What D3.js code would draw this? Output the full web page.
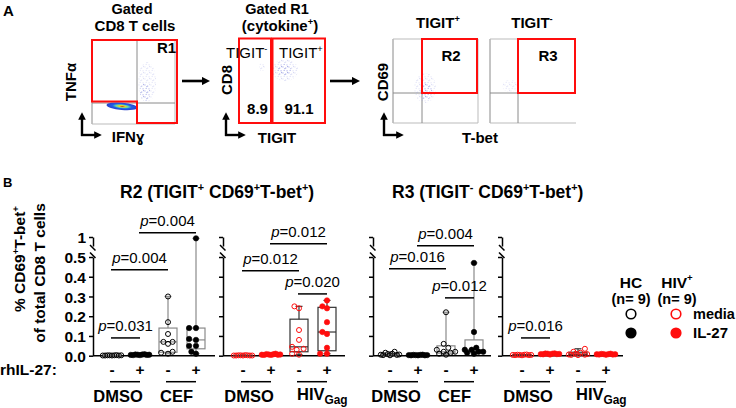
<!DOCTYPE html>
<html><head><meta charset="utf-8">
<script src="https://cdn.jsdelivr.net/npm/d3@7"></script>
<style>body{margin:0;background:#fff} svg{display:block} text{font-family:"Liberation Sans",Arial,sans-serif}</style>
</head><body><svg id="c" width="736" height="408"></svg>
<script>
// ---------------- DATA ----------------
const groupKeys = ["dmso_media", "dmso_il27", "stim_media", "stim_il27"];
const il27Signs = ["-", "+", "-", "+"];
const yTicks = [0, 0.1, 0.2, 0.3, 0.4, 0.5];
const yTickLabels = ["0.0", "0.1", "0.2", "0.3", "0.4", "0.5"];
const yTopTick = [1];
const yTopTickLabels = ["1"];

// R2 (TIGIT+ CD69+ T-bet+), HC donors
const r2HC = [
  [0.001, 0.002, 0.001, 0.003, 0.002, 0.001, 0.002, 0.001, 0.002],
  [0.004, 0.006, 0.003, 0.005, 0.007, 0.004, 0.005, 0.003, 0.006],
  [0.30, 0.17, 0.11, 0.07, 0.07, 0.06, 0.02, 0.015, 0.01],
  [0.97, 0.14, 0.14, 0.085, 0.08, 0.05, 0.05, 0.02, 0.01]
];
// R2, HIV+ donors
const r2HIV = [
  [0.001, 0.002, 0.001, 0.002, 0.001, 0.003, 0.001, 0.002, 0.001],
  [0.005, 0.008, 0.004, 0.006, 0.010, 0.005, 0.007, 0.004, 0.006],
  [0.25, 0.24, 0.13, 0.08, 0.045, 0.035, 0.03, 0.01, 0.005],
  [0.28, 0.25, 0.24, 0.17, 0.12, 0.11, 0.04, 0.01, 0.01]
];
// R3 (TIGIT- CD69+ T-bet+), HC donors
const r3HC = [
  [0.02, 0.015, 0.01, 0.008, 0.006, 0.005, 0.004, 0.003, 0.002],
  [0.004, 0.003, 0.005, 0.002, 0.003, 0.004, 0.002, 0.003, 0.002],
  [0.22, 0.06, 0.04, 0.03, 0.02, 0.02, 0.015, 0.01, 0.005],
  [0.47, 0.12, 0.04, 0.03, 0.03, 0.02, 0.02, 0.015, 0.01]
];
// R3, HIV+ donors
const r3HIV = [
  [0.006, 0.004, 0.005, 0.003, 0.004, 0.002, 0.005, 0.003, 0.004],
  [0.012, 0.010, 0.008, 0.011, 0.009, 0.007, 0.010, 0.008, 0.006],
  [0.035, 0.02, 0.015, 0.01, 0.008, 0.006, 0.005, 0.004, 0.003],
  [0.010, 0.008, 0.009, 0.007, 0.006, 0.008, 0.005, 0.007, 0.006]
];

// p-value brackets: panel, from group, to group, text, bracket height (data units)
const pPanel = [0, 0, 0, 1, 1, 1, 2, 2, 2, 3];
const pFrom  = [0, 0, 1, 1, 0, 2, 1, 0, 2, 0];
const pTo    = [1, 2, 3, 3, 2, 3, 3, 2, 3, 1];
const pText  = ["0.031", "0.004", "0.004", "0.012", "0.012", "0.020", "0.004", "0.016", "0.012", "0.016"];
const pLevel = [0.09, 0.435, 0.623, 0.567, 0.430, 0.313, 0.557, 0.440, 0.293, 0.09];

const fcsSample1 = ["8.9", "91.1"];

// ---------------- DRAW ----------------
const svg = d3.select("#c");
const FONT = '"Liberation Sans",Arial,sans-serif';
const RED = "#ff0d0d";
const defs = svg.append("defs");

function rich(g, x, y, parts, size, weight, anchor) {
  const t = g.append("text").attr("x", x).attr("y", y)
    .attr("font-size", size).attr("font-weight", weight || "bold")
    .attr("text-anchor", anchor || "start").attr("fill", "#000");
  let shift = 0;
  parts.forEach(p => {
    const s = p.sup ? -size * 0.42 : p.sub ? size * 0.25 : 0;
    const ts = t.append("tspan").attr("dy", s - shift).text(p.t);
    if (p.sup || p.sub) ts.attr("font-size", size * (p.sub ? 0.72 : 0.62));
    if (p.it) ts.attr("font-style", "italic");
    shift = s;
  });
  return t;
}

// ---------- Panel A ----------
const pat = defs.append("pattern").attr("id", "dots").attr("width", 6).attr("height", 6).attr("patternUnits", "userSpaceOnUse");
[[0.5,0.5],[3.3,1.6],[1.7,3.9],[4.6,4.4],[2.4,2.2],[5.1,0.2]].forEach(([x,y]) =>
  pat.append("rect").attr("x", x).attr("y", y).attr("width", 0.9).attr("height", 0.9).attr("fill", "#8f94e0"));
const jet = defs.append("radialGradient").attr("id", "jet");
[[0,"#c8261c"],[0.2,"#f0d020"],[0.4,"#60d8a8"],[0.62,"#2060ea"],[1,"#2840c8"]].forEach(([o,c]) =>
  jet.append("stop").attr("offset", o).attr("stop-color", c));
defs.append("marker").attr("id", "ah").attr("viewBox", "0 0 10 10").attr("refX", 5).attr("refY", 5)
  .attr("markerWidth", 3.2).attr("markerHeight", 3.2).attr("orient", "auto")
  .append("path").attr("d", "M0,0 L10,5 L0,10 z").attr("fill", "#000");

const A = svg.append("g");
rich(A, 3, 16, [{t:"A"}], 15);
rich(A, 3, 187, [{t:"B"}], 13);

function cloud(cx, cy, rx, ry, op) {
  A.append("ellipse").attr("cx", cx).attr("cy", cy).attr("rx", rx).attr("ry", ry)
    .attr("fill", "url(#dots)").attr("opacity", op);
}
function gray(x1, y1, x2, y2, c) {
  A.append("line").attr("x1", x1).attr("y1", y1).attr("x2", x2).attr("y2", y2)
    .attr("stroke", c || "#8a8a8a").attr("stroke-width", 1);
}
function axArrows(x, y, len) {
  A.append("line").attr("x1", x).attr("y1", y + 1).attr("x2", x).attr("y2", y - len)
    .attr("stroke", "#000").attr("stroke-width", 2.4).attr("marker-end", "url(#ah)");
  A.append("line").attr("x1", x - 1).attr("y1", y).attr("x2", x + len - 3).attr("y2", y)
    .attr("stroke", "#000").attr("stroke-width", 2.4).attr("marker-end", "url(#ah)");
}
function arrow(x1, x2, y) {
  A.append("line").attr("x1", x1).attr("y1", y).attr("x2", x2).attr("y2", y)
    .attr("stroke", "#000").attr("stroke-width", 2.6).attr("marker-end", "url(#ah)");
}

// plot 1
rich(A, 132, 14, [{t:"Gated"}], 14.5, "bold", "middle");
rich(A, 135, 31, [{t:"CD8 T cells"}], 15, "bold", "middle");
gray(92, 40, 92, 124); gray(92, 124, 175, 124, "#bbb"); gray(175, 40, 175, 124, "#bbb");
gray(137, 40, 137, 124); gray(92, 103, 175, 103);
cloud(147, 82, 9, 20, 0.4); cloud(145, 92, 5, 9, 0.75);
A.append("ellipse").attr("cx", 122).attr("cy", 106.3).attr("rx", 15.5).attr("ry", 3.6)
  .attr("transform", "rotate(5,122,106.3)").attr("fill", "url(#jet)");
A.append("path").attr("d", "M92,40 H177 V123 H137 V101.5 H92 Z").attr("fill", "none")
  .attr("stroke", RED).attr("stroke-width", 2);
rich(A, 157, 53, [{t:"R1"}], 15, "bold", "start");
A.append("g").attr("transform", "translate(76,82) rotate(-90)").call(g =>
  rich(g, 0, 0, [{t:"TNFα"}], 15, "bold", "middle"));
rich(A, 128, 142, [{t:"IFNɣ"}], 15, "bold", "middle");
axArrows(82, 135, 19);
arrow(182, 206, 81);

// plot 2
rich(A, 277, 14, [{t:"Gated R1"}], 14.5, "bold", "middle");
rich(A, 280, 31, [{t:"(cytokine"},{t:"+",sup:true},{t:")"}], 15, "bold", "middle");
cloud(285, 70, 13, 11, 0.5); cloud(284, 70, 7, 6, 0.8); cloud(262, 67, 3, 4, 0.4);
A.append("rect").attr("x", 239).attr("y", 38.5).attr("width", 32).attr("height", 84.5)
  .attr("fill", "none").attr("stroke", RED).attr("stroke-width", 2);
A.append("rect").attr("x", 272.5).attr("y", 38.5).attr("width", 52.5).attr("height", 84.5)
  .attr("fill", "none").attr("stroke", RED).attr("stroke-width", 2);
rich(A, 226, 58, [{t:"TIGIT"},{t:"-",sup:true}], 15, "normal", "start");
rich(A, 279, 58, [{t:"TIGIT"},{t:"+",sup:true}], 15, "normal", "start");
rich(A, 257.5, 114, [{t:fcsSample1[0]}], 15, "bold", "middle");
rich(A, 299, 114, [{t:fcsSample1[1]}], 15, "bold", "middle");
A.append("g").attr("transform", "translate(232,80) rotate(-90)").call(g =>
  rich(g, 0, 0, [{t:"CD8"}], 15, "bold", "middle"));
rich(A, 277, 143, [{t:"TIGIT"}], 15, "bold", "middle");
axArrows(226, 135, 19);
arrow(330, 356, 81);

// plots 3 & 4
rich(A, 438, 28, [{t:"TIGIT"},{t:"+",sup:true}], 15, "bold", "middle");
rich(A, 532, 28, [{t:"TIGIT"},{t:"-",sup:true}], 15, "bold", "middle");
gray(393, 39, 393, 123); gray(393, 123, 478, 123, "#bbb"); gray(478, 39, 478, 123, "#bbb");
gray(393, 39, 478, 39, "#bbb");
gray(422, 39, 422, 123); gray(393, 93, 478, 93);
cloud(425, 88, 11, 15, 0.4); cloud(426, 91, 6, 9, 0.8);
A.append("rect").attr("x", 422).attr("y", 39).attr("width", 55).attr("height", 54)
  .attr("fill", "none").attr("stroke", RED).attr("stroke-width", 2);
rich(A, 451, 61, [{t:"R2"}], 15, "bold", "middle");
gray(490, 39, 490, 123); gray(490, 123, 576, 123, "#bbb"); gray(490, 39, 576, 39, "#bbb");
gray(518, 39, 518, 123); gray(490, 93, 576, 93);
cloud(510, 86, 8, 6, 0.35);
A.append("rect").attr("x", 518).attr("y", 39).attr("width", 57).attr("height", 54)
  .attr("fill", "none").attr("stroke", RED).attr("stroke-width", 2);
rich(A, 548, 61, [{t:"R3"}], 15, "bold", "middle");
A.append("g").attr("transform", "translate(388,82) rotate(-90)").call(g =>
  rich(g, 0, 0, [{t:"CD69"}], 15, "bold", "middle"));
rich(A, 480, 143, [{t:"T-bet"}], 15, "bold", "middle");
axArrows(384, 135, 19);

// ---------- Panel B ----------
const B = svg.append("g");
const yLow = d3.scaleLinear().domain([0, 0.5]).range([355.7, 257]);
const yHigh = d3.scaleLinear().domain([0.8, 1]).range([246, 237]);
const yv = v => v > 0.5 ? yHigh(v) : yLow(v);

const panels = [
  {data: r2HC,  hiv: false, ax: 93,  first: 112, end: 215, labels: true,  stim: "CEF"},
  {data: r2HIV, hiv: true,  ax: 223, first: 243, end: 345, labels: false, stim: "HIV"},
  {data: r3HC,  hiv: false, ax: 373, first: 390, end: 491, labels: false, stim: "CEF"},
  {data: r3HIV, hiv: true,  ax: 502, first: 522, end: 623, labels: false, stim: "HIV"}
];

rich(B, 120, 198, [{t:"R2 (TIGIT"},{t:"+",sup:true},{t:" CD69"},{t:"+",sup:true},{t:"T-bet"},{t:"+",sup:true},{t:")"}], 17.5, "bold");
rich(B, 392, 198, [{t:"R3 (TIGIT"},{t:"-",sup:true},{t:" CD69"},{t:"+",sup:true},{t:"T-bet"},{t:"+",sup:true},{t:")"}], 17.5, "bold");

B.append("g").attr("transform", "translate(25,259) rotate(-90)").call(g =>
  rich(g, 0, 0, [{t:"% CD69"},{t:"+",sup:true},{t:"T-bet"},{t:"+",sup:true}], 15.5, "bold", "middle"));
B.append("g").attr("transform", "translate(45,273) rotate(-90)").call(g =>
  rich(g, 0, 0, [{t:"of total CD8 T cells"}], 15.5, "bold", "middle"));
rich(B, 0, 375, [{t:"rhIL-27:"}], 15.5, "bold");

function quart(vals) {
  const s = vals.slice().sort((a, b) => a - b), n = s.length;
  const q = p => { const pos = (n + 1) * p - 1; const lo = Math.max(0, Math.floor(pos)), hi = Math.min(n - 1, Math.ceil(pos));
    return s[lo] + (s[hi] - s[lo]) * (pos - lo); };
  return {min: s[0], q1: q(0.25), med: q(0.5), q3: q(0.75), max: s[n - 1]};
}

function dodge(vals, cx, r) {
  const order = d3.range(vals.length).sort((a, b) => vals[a] - vals[b]);
  const cands = d3.range(-4, 5).map(k => k * 2.3).sort((a, b) => Math.abs(a) - Math.abs(b) || a - b);
  const placed = [], out = [];
  order.forEach(i => {
    const py = yv(vals[i]);
    let best = 0, bc = Infinity;
    cands.forEach(dx => {
      let c = 0;
      placed.forEach(p => { const d = Math.hypot(p.x - dx, p.y - py); if (d < 2 * r) c += 2 * r - d; });
      if (c < bc - 1e-9) { bc = c; best = dx; }
    });
    placed.push({x: best, y: py});
    out[i] = {x: cx + best, y: py};
  });
  return out;
}

panels.forEach((P, pi) => {
  const g = B.append("g");
  const x = d3.scalePoint().domain(groupKeys).range([P.first, P.first + 84]);
  const lowAx = d3.axisLeft(yLow).tickValues(yTicks).tickSize(4).tickSizeOuter(0)
    .tickFormat((d, i) => P.labels ? yTickLabels[i] : "");
  const hiAx = d3.axisLeft(yHigh).tickValues(yTopTick).tickSize(4).tickSizeOuter(0)
    .tickFormat((d, i) => P.labels ? yTopTickLabels[i] : "");
  [lowAx, hiAx].forEach(a => {
    const ag = g.append("g").attr("transform", `translate(${P.ax},0)`).call(a);
    ag.selectAll("path,line").attr("stroke", "#000").attr("stroke-width", 1.5);
    ag.selectAll("text").attr("font-family", FONT).attr("font-size", 15.5).attr("font-weight", "bold")
      .attr("fill", "#000").attr("x", -7).attr("dy", "0.36em");
  });
  [[245, 250.5], [252.5, 258]].forEach(([a, b]) =>
    g.append("line").attr("x1", P.ax - 3).attr("y1", a).attr("x2", P.ax + 2.5).attr("y2", b)
      .attr("stroke", "#000").attr("stroke-width", 1.5));
  g.append("line").attr("x1", P.ax).attr("x2", P.end).attr("y1", yLow(0)).attr("y2", yLow(0))
    .attr("stroke", "#000").attr("stroke-width", 1.5);

  const col = P.hiv ? RED : "#000";
  const boxCol = P.hiv ? "#333" : "#8a8a8a";
  P.data.forEach((vals, gi) => {
    const cx = x(groupKeys[gi]);
    const s = quart(vals);
    const bw = 9;
    g.append("line").attr("x1", cx).attr("x2", cx).attr("y1", yv(s.max)).attr("y2", yv(s.min))
      .attr("stroke", boxCol).attr("stroke-width", 1.2);
    [s.max, s.min].forEach(v => g.append("line").attr("x1", cx - 3.5).attr("x2", cx + 3.5)
      .attr("y1", yv(v)).attr("y2", yv(v)).attr("stroke", boxCol).attr("stroke-width", 1.2));
    g.append("rect").attr("x", cx - bw).attr("width", 2 * bw).attr("y", yv(s.q3))
      .attr("height", Math.max(0.5, yv(s.q1) - yv(s.q3))).attr("fill", "#fff")
      .attr("stroke", boxCol).attr("stroke-width", 1.2);
    g.append("line").attr("x1", cx - bw).attr("x2", cx + bw).attr("y1", yv(s.med)).attr("y2", yv(s.med))
      .attr("stroke", boxCol).attr("stroke-width", 1.2);
    const open = gi % 2 === 0;
    const pts = dodge(vals, cx, 2.5);
    g.selectAll(null).data(pts).join("circle")
      .attr("cx", d => d.x).attr("cy", d => d.y).attr("r", open ? 2.5 : 2.7)
      .attr("fill", open ? "none" : col).attr("stroke", col).attr("stroke-width", open ? 1 : 0.6);
    rich(g, cx, 375, [{t: il27Signs[gi]}], 15.5, "bold", "middle");
  });
  [[0, 1, "DMSO"], [2, 3, P.stim]].forEach(([a, b, name]) => {
    const x1 = x(groupKeys[a]) - 2, x2 = x(groupKeys[b]);
    g.append("line").attr("x1", x1).attr("x2", x2).attr("y1", 381.7).attr("y2", 381.7)
      .attr("stroke", "#000").attr("stroke-width", 1.5);
    if (name === "HIV") rich(g, x1, 400, [{t:"HIV"},{t:"Gag",sub:true}], 16.5, "bold", "start");
    else rich(g, (x1 + x2) / 2 - (name === "DMSO" ? 7 : 4.5), 402, [{t:name}], 16.5, "bold", "middle");
  });
  pPanel.forEach((pp, k) => {
    if (pp !== pi) return;
    const x1 = x(groupKeys[pFrom[k]]) - 1, x2 = x(groupKeys[pTo[k]]);
    const yy = yLow(pLevel[k]);
    g.append("line").attr("x1", x1).attr("x2", x2).attr("y1", yy).attr("y2", yy)
      .attr("stroke", "#000").attr("stroke-width", 1.5);
    rich(g, (x1 + x2) / 2, yy - 7, [{t:"p", it:true}, {t:"=" + pText[k]}], 15, "normal", "middle");
  });
});

// legend
const L = svg.append("g");
rich(L, 631, 288, [{t:"HC"}], 15.5, "bold", "middle");
rich(L, 677, 288, [{t:"HIV"},{t:"+",sup:true}], 15.5, "bold", "middle");
rich(L, 631, 304, [{t:"(n= 9)"}], 14.5, "bold", "middle");
rich(L, 677, 304, [{t:"(n= 9)"}], 14.5, "bold", "middle");
[[631, 314, "#000", false], [631, 333, "#000", true], [676, 314, RED, false], [676, 333, RED, true]].forEach(([cx, cy, c, f]) =>
  L.append("circle").attr("cx", cx).attr("cy", cy).attr("r", 4.8).attr("fill", f ? c : "#fff")
    .attr("stroke", c).attr("stroke-width", 1.6));
rich(L, 693, 319, [{t:"media"}], 14.5, "bold");
rich(L, 693, 338, [{t:"IL-27"}], 15, "bold");
</script></body></html>
